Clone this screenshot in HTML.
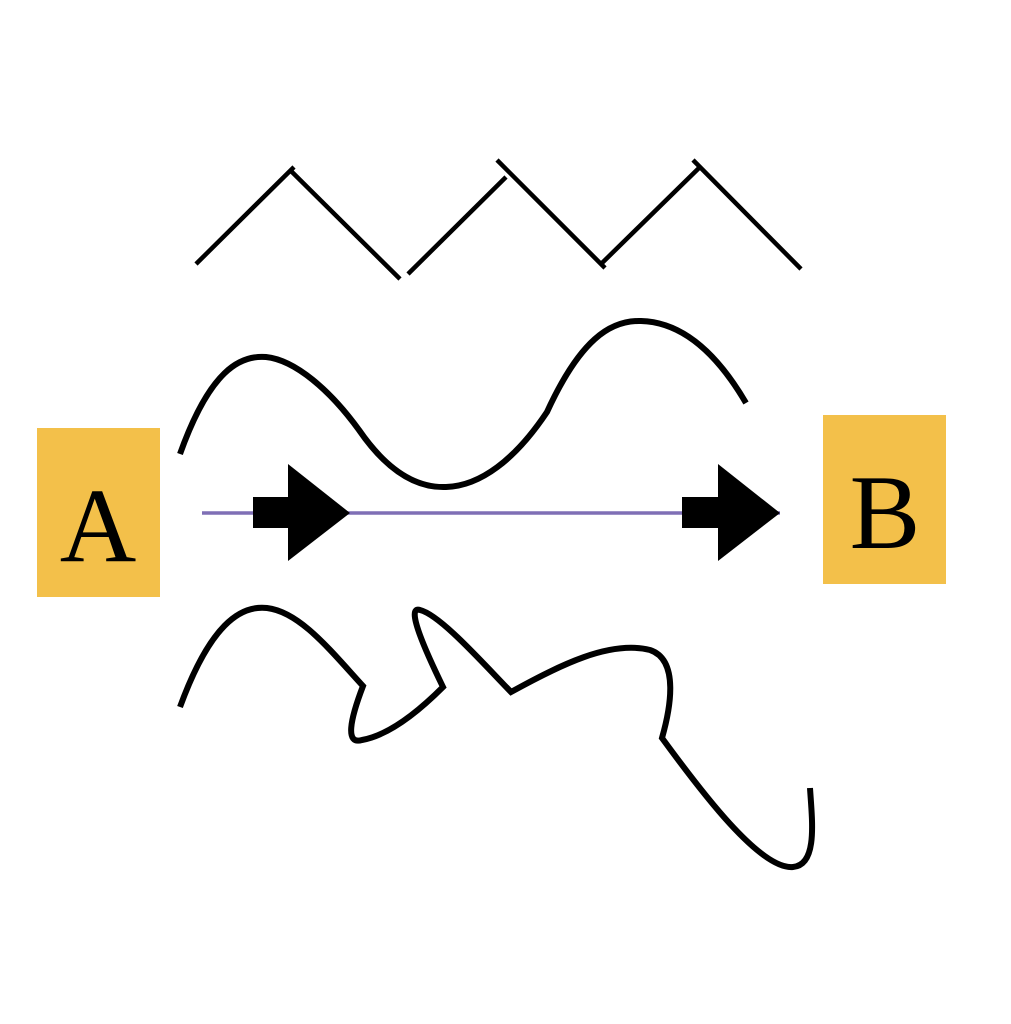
<!DOCTYPE html>
<html><head><meta charset="utf-8"><style>
html,body{margin:0;padding:0;background:#fff;}
svg{display:block;}
.lbl{font-family:"Liberation Serif","Times New Roman",serif;font-size:106px;}
</style></head><body>
<svg width="1011" height="1024" viewBox="0 0 1011 1024" xmlns="http://www.w3.org/2000/svg">
<rect width="1011" height="1024" fill="#fff"/>
<g stroke="#000" stroke-width="4.5" fill="none">
<line x1="196" y1="264" x2="294" y2="167"/>
<line x1="290" y1="170" x2="400" y2="279"/>
<line x1="408" y1="274" x2="506" y2="177"/>
<line x1="497" y1="160" x2="605" y2="268"/>
<line x1="601" y1="264" x2="700" y2="167"/>
<line x1="693" y1="160" x2="801" y2="269"/>
</g>
<path d="M180,454 C210,370 240,355 266,357 C295,360 330,390 359,430 C390,475 420,488 446,487 C480,486 515,460 547,412 C580,340 610,320 641,321 C680,322 715,350 746,403" stroke="#000" stroke-width="6" fill="none"/>
<path d="M180,707 C210,625 240,605 267,608 C300,612 330,650 363,686 C350,720 345,745 362,740 C390,735 420,710 443,687 C425,650 405,605 420,610 C440,615 480,660 511,692 C560,665 610,640 650,650 C680,660 670,710 662,738 C700,790 760,870 793,867 C818,865 812,820 810,788" stroke="#000" stroke-width="6" fill="none"/>
<line x1="202" y1="513" x2="780" y2="513" stroke="#7f6fb5" stroke-width="3.5"/>
<rect x="253" y="497" width="37" height="31" fill="#000"/>
<polygon points="288,464 350,513 288,561" fill="#000"/>
<rect x="682" y="497" width="37" height="31" fill="#000"/>
<polygon points="718,464 780,513 718,561" fill="#000"/>
<rect x="37" y="428" width="123" height="169" fill="#f3c04a"/>
<text class="lbl" x="98" y="561" text-anchor="middle" fill="#000">A</text>
<rect x="823" y="415" width="123" height="169" fill="#f3c04a"/>
<text class="lbl" x="885" y="548" text-anchor="middle" fill="#000">B</text>
</svg>
</body></html>
